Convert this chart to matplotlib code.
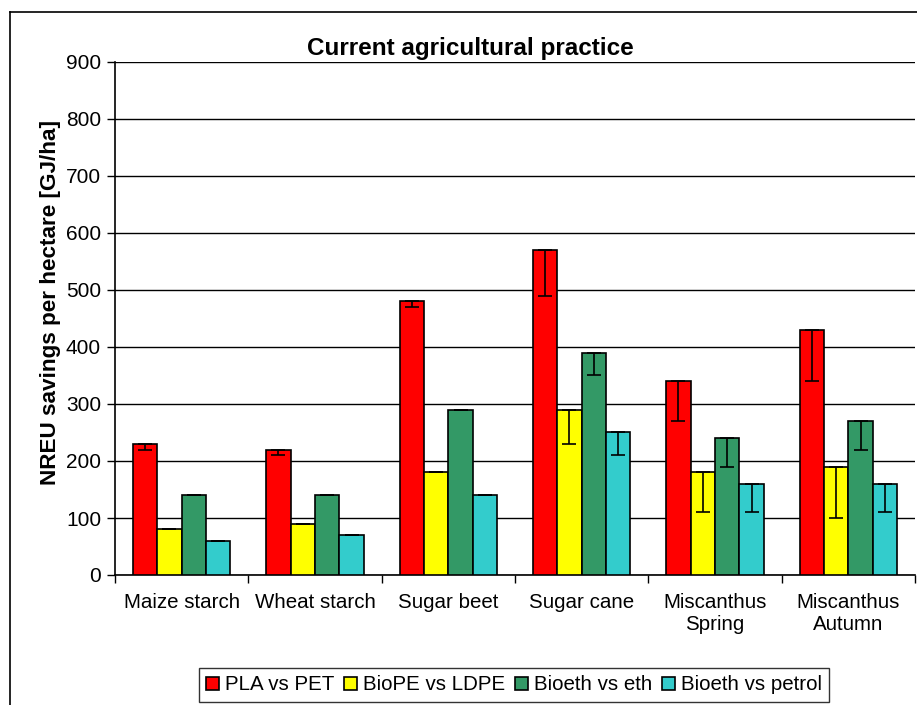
import matplotlib
matplotlib.use('Agg')
import matplotlib.pyplot as plt
import numpy as np
from matplotlib.lines import Line2D

plt.rcParams['font.family'] = ['Liberation Sans', 'DejaVu Sans']

categories = ['Maize starch', 'Wheat starch', 'Sugar beet', 'Sugar cane',
              'Miscanthus\nSpring', 'Miscanthus\nAutumn']
series = ['PLA vs PET', 'BioPE vs LDPE', 'Bioeth vs eth', 'Bioeth vs petrol']
colors = ['#ff0000', '#ffff00', '#339966', '#33cccc']

pla = [230, 220, 480, 570, 340, 430]
biope = [80, 90, 180, 290, 180, 190]
bioeth_eth = [140, 140, 290, 390, 240, 270]
bioeth_petrol = [60, 70, 140, 250, 160, 160]

# lower ends of the error bars
pla_low = [220, 210, 470, 490, 270, 340]
biope_low = [80, 90, 180, 230, 110, 100]
bioeth_eth_low = [140, 140, 290, 350, 190, 220]
bioeth_petrol_low = [60, 70, 140, 210, 110, 110]

values = [pla, biope, bioeth_eth, bioeth_petrol]
lows = [pla_low, biope_low, bioeth_eth_low, bioeth_petrol_low]

fig = plt.figure(figsize=(9.17, 7.05), dpi=100)
ax = fig.add_axes([115/917, 1-575/705, 800/917, 513/705])

x = np.arange(len(categories))
w = 0.183
for i, (vals, lo) in enumerate(zip(values, lows)):
    vals = np.array(vals)
    err = vals - np.array(lo)
    pos = x - 1.5*w + i*w
    ax.bar(pos, vals, w, color=colors[i], edgecolor='black', linewidth=1.2,
           label=series[i], zorder=3)
    ax.errorbar(pos, vals, yerr=[err, np.zeros_like(err)], fmt='none',
                ecolor='black', elinewidth=1.2, capsize=5, capthick=1.2, zorder=4)

ax.set_xlim(-0.5, len(categories)-0.5)
ax.set_ylim(0, 900)
ax.set_yticks(np.arange(0, 901, 100))
ax.yaxis.grid(True, color='black', linewidth=1, zorder=0)
ax.set_xticks(x)
ax.set_xticklabels(categories, fontsize=14.8)
ax.tick_params(axis='x', length=0, pad=13)
ax.set_xticks(np.arange(-0.5, len(categories)), minor=True)
ax.tick_params(axis='x', which='minor', length=6, width=1, direction='out')
ax.tick_params(axis='y', labelsize=15, length=6, width=1, direction='out', pad=4)
for s in ['top', 'right']:
    ax.spines[s].set_visible(False)
ax.spines['left'].set_linewidth(1.2)
ax.spines['bottom'].set_linewidth(1.2)

ax.set_ylabel('NREU savings per hectare [GJ/ha]', fontsize=16.2, fontweight='bold')
ax.yaxis.set_label_coords(-0.068, 0.532)
fig.text(470/917, 1-48/705, 'Current agricultural practice', fontsize=17.5,
         fontweight='bold', ha='center', va='center')

leg = fig.legend(loc='center', bbox_to_anchor=(514/917, 1-685/705), ncol=4,
                 fontsize=14.8, frameon=True, fancybox=False, handlelength=0.6,
                 handleheight=0.6, handletextpad=0.3, columnspacing=0.5,
                 borderpad=0.35)
leg.get_frame().set_edgecolor('black')
leg.get_frame().set_linewidth(1)

# outer chart border (left and top edges visible)
fig.add_artist(Line2D([9.5/917, 9.5/917], [0, 1-12/705], transform=fig.transFigure,
                      color='black', linewidth=1.2))
fig.add_artist(Line2D([9.5/917, 1], [1-12/705, 1-12/705], transform=fig.transFigure,
                      color='black', linewidth=1.2))

fig.savefig('out.png', dpi=100)
